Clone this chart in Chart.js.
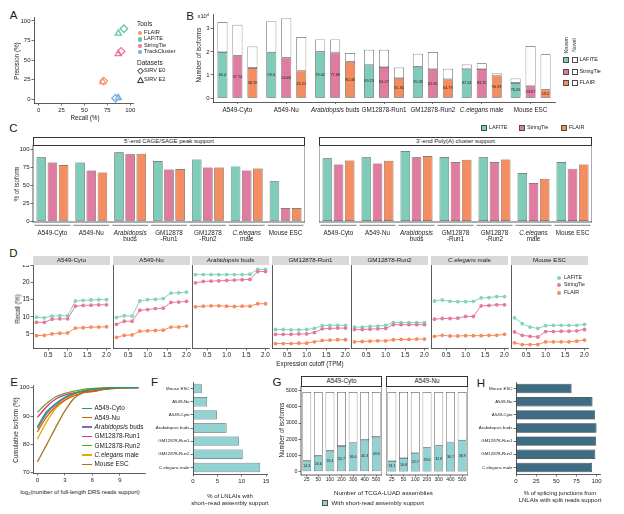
<!DOCTYPE html>
<html><head><meta charset="utf-8">
<script src="https://cdn.jsdelivr.net/npm/chart.js@4.4.1/dist/chart.umd.min.js"></script>
<style>
html,body{margin:0;padding:0;background:#fff}
body{position:relative;width:624px;height:514px;overflow:hidden;font-family:"Liberation Sans",Arial,Helvetica,sans-serif;color:#1a1a1a}
canvas{position:absolute}
.t{position:absolute;white-space:nowrap;line-height:1}
.bx{position:absolute;box-sizing:border-box}
</style></head><body>
<script>
// ================= DATA =================
const groups = ['A549-Cyto','A549-Nu','*Arabidopsis* buds','GM12878-Run1','GM12878-Run2','*C.elegans* male','Mouse ESC'];
const groupsTwoLine = ['A549-Cyto','A549-Nu','*Arabidopsis*\nbuds','GM12878\n-Run1','GM12878\n-Run2','*C.elegans*\nmale','Mouse ESC'];
const toolNames = ['LAFITE','StringTie','FLAIR'];

// A: precision / recall on SIRV
const aTools = ['FLAIR','LAFITE','StringTie','TrackCluster'];
const aRecallE0 = [71, 93, 90, 84];
const aPrecE0 = [23, 90, 61, 1];
const aRecallE2 = [70, 87, 87, 87];
const aPrecE2 = [22, 84, 58, 1.5];
const aAxisTicks = [0, 25, 50, 75, 100];

// B: number of isoforms (x10^4), known part and total
const bTotalLafite = [3.29, 3.33, 2.54, 2.09, 1.92, 1.45, 0.85];
const bKnownLafite = [1.99, 1.98, 2.01, 1.45, 1.355, 1.265, 0.65];
const bTotalStringTie = [3.17, 3.46, 2.54, 2.09, 1.99, 1.51, 2.25];
const bKnownStringTie = [1.83, 1.75, 1.97, 1.34, 1.25, 1.255, 0.53];
const bTotalFlair = [2.23, 2.64, 1.95, 1.32, 1.27, 1.08, 1.90];
const bKnownFlair = [1.30, 1.19, 1.57, 0.86, 0.82, 0.98, 0.365];
const bPctLafite = ['60.4','59.6','79.02','69.23','70.58','87.24','76.26'];
const bPctStringTie = ['57.74','50.66','77.68','64.27','62.65','83.15','23.67'];
const bPctFlair = ['58.19','45.21','80.46','65.36','64.79','90.93','19.2'];
const bTicks = [0, 1, 2, 3];

// C: % of isoforms supported
const cFiveLafite = [89.3, 82.2, 96.3, 84.1, 86.4, 76.6, 55.6];
const cFiveStringTie = [82.2, 71.0, 93.5, 72.4, 75.2, 71.0, 18.2];
const cFiveFlair = [78.5, 68.2, 94.4, 72.9, 75.2, 73.8, 18.2];
const cThreeLafite = [87.9, 89.3, 98.1, 89.7, 89.3, 67.3, 82.7];
const cThreeStringTie = [79.4, 80.8, 89.3, 82.7, 82.7, 53.3, 73.4];
const cThreeFlair = [85.0, 84.6, 91.1, 86.0, 86.4, 59.3, 79.4];
const cTicks = [0, 25, 50, 75, 100];

// D: recall vs expression cutoff, one row per sample (same order as groups)
const dCutoffs = [0.2, 0.4, 0.6, 0.8, 1.0, 1.2, 1.4, 1.6, 1.8, 2.0];
const dLafite = [
  [9.9, 9.7, 10.2, 10.3, 10.3, 14.6, 14.8, 14.9, 15.0, 15.0],
  [9.8, 10.3, 10.2, 14.6, 15.0, 15.1, 15.3, 16.9, 17.0, 17.2],
  [22.3, 22.3, 22.3, 22.3, 22.3, 22.3, 22.3, 22.4, 23.8, 23.8],
  [6.3, 6.3, 6.2, 6.2, 6.3, 6.6, 7.4, 7.5, 7.5, 7.5],
  [7.0, 7.0, 7.2, 7.3, 7.5, 8.3, 8.3, 8.3, 8.3, 8.3],
  [14.6, 14.9, 14.5, 14.4, 14.4, 14.5, 15.5, 15.6, 15.9, 15.9],
  [9.7, 8.0, 7.0, 6.6, 7.4, 7.5, 7.5, 7.5, 7.5, 7.8]
];
const dStringTie = [
  [8.4, 8.4, 9.3, 9.4, 9.4, 13.1, 13.3, 13.4, 13.5, 13.5],
  [7.8, 8.7, 8.7, 11.9, 12.1, 12.4, 12.5, 14.2, 14.3, 14.5],
  [19.9, 20.3, 20.4, 20.5, 20.6, 20.7, 20.8, 20.9, 23.2, 23.2],
  [4.9, 4.9, 4.9, 5.0, 5.0, 5.4, 6.5, 6.6, 6.7, 6.7],
  [6.3, 6.3, 6.4, 6.5, 6.6, 7.7, 7.7, 7.7, 7.7, 7.7],
  [9.3, 9.5, 9.5, 9.6, 10.1, 10.1, 13.2, 13.3, 13.5, 13.5],
  [5.6, 4.6, 4.3, 4.1, 5.7, 5.7, 5.8, 5.8, 5.9, 6.3]
];
const dFlair = [
  [4.5, 4.6, 5.0, 5.2, 5.3, 6.7, 6.8, 7.0, 7.0, 7.1],
  [4.0, 4.6, 4.7, 5.8, 5.9, 6.0, 6.1, 7.0, 7.0, 7.3],
  [12.9, 13.1, 13.2, 13.2, 13.1, 13.0, 13.1, 13.1, 13.8, 13.8],
  [2.2, 2.2, 2.2, 2.3, 2.3, 2.7, 3.1, 3.2, 3.3, 3.3],
  [2.7, 2.8, 2.9, 3.0, 3.0, 3.3, 3.4, 3.4, 3.5, 3.5],
  [4.3, 4.6, 4.4, 4.4, 4.5, 4.5, 4.5, 4.6, 4.6, 4.9],
  [2.4, 1.9, 1.9, 1.9, 2.7, 2.7, 2.7, 2.7, 2.9, 3.2]
];
const dXTicks = [0.5, 1.0, 1.5, 2.0];
const dYTicks = [5, 10, 15, 20, 25];

// E: cumulative isoform (%) vs log2(reads)
const eX = [0, 1, 2, 3, 4, 5, 6, 7, 8, 9, 10, 11];
const eA549Cyto = [86.2, 91.5, 94.4, 96.6, 98.0, 98.9, 99.4, 99.7, 99.9, 100, 100, 100];
const eA549Nu = [84.4, 89.7, 93.3, 95.6, 97.2, 98.3, 98.6, 99.2, 99.6, 99.9, 100, 100];
const eArabidopsis = [85.6, 90.8, 94.0, 96.4, 97.9, 98.8, 99.4, 99.7, 99.9, 100, 100, 100];
const eGMRun1 = [89.5, 93.3, 96.0, 97.4, 98.2, 98.6, 98.7, 99.4, 99.8, 100, 100, 100];
const eGMRun2 = [91.3, 94.4, 96.8, 98.0, 98.8, 99.4, 99.7, 99.9, 100, 100, 100, 100];
const eCelegans = [81.8, 87.9, 92.7, 95.6, 97.8, 98.9, 99.4, 99.7, 99.9, 100, 100, 100];
const eMouseESC = [73.8, 79.8, 86.0, 91.8, 96.3, 98.3, 98.9, 99.3, 99.8, 100, 100, 100];
const eXTicks = [0, 3, 6, 9];
const eYTicks = [70, 80, 90, 100];

// F / H: horizontal bars
const fhCats = ['Mouse ESC','A549-Nu','A549-Cyto','Arabidopsis buds','GM12878-Run1','GM12878-Run2','C.elegans male'];
const fValues = [1.8, 2.9, 4.9, 6.9, 9.4, 10.2, 13.8];
const fTicks = [0, 5, 10, 15];
const hValues = [69, 95, 98, 100, 99.5, 98.5, 94.5];
const hTicks = [0, 25, 50, 75, 100];

// G: isoforms with short-read assembly support
const gAssemblies = ['25','50','100','200','300','400','500'];
const gTotalCyto = [4920, 4920, 4920, 4920, 4920, 4920, 4920];
const gSupportCyto = [667, 979, 1292, 1583, 1792, 1958, 2146];
const gPctCyto = ['14.3','20.6','26.4','32.7','36.6','40.3','43.6'];
const gTotalNu = [4920, 4920, 4920, 4920, 4920, 4920, 4920];
const gSupportNu = [650, 833, 1130, 1480, 1604, 1805, 1930];
const gPctNu = ['13.1','16.8','22.7','29.6','32.8','36.7','38.9'];
const gTicks = [0, 1000, 2000, 3000, 4000, 5000];

// ================= STYLE =================
const FONT = '"Liberation Sans", Arial, Helvetica, sans-serif';
const AXC = '#333333', TXT = '#222222', BRD = '#4d4d4d';
const COL = {lafite:'#7ECCB9', stringtie:'#E07C9F', flair:'#F48E60'};
const ACOL = {FLAIR:'#F6976C', LAFITE:'#66C5A8', StringTie:'#E5779F', TrackCluster:'#7BAFDE'};
const DCOL = ['#84D3BF', '#E57AA0', '#F58C5E'];
const ECOL = ['#1B9E77','#D95F02','#7570B3','#E7298A','#66A61E','#E6AB02','#A6761D'];
const CYAN = '#92D2D3', HCOL = '#3D6C83';
Chart.defaults.font.family = FONT;
Chart.defaults.font.size = 6;
Chart.defaults.color = TXT;

function toHtml(s){ return s.replace(/\*(.*?)\*/g, '<i>$1</i>'); }
function T(html, x, y, size, align, rot, extra) {
  const d = document.createElement('div');
  d.className = 't'; d.innerHTML = html;
  d.style.left = x + 'px'; d.style.top = y + 'px'; d.style.fontSize = size + 'px';
  const tx = align === 'c' ? '-50%' : align === 'r' ? '-100%' : '0';
  d.style.transform = 'translate(' + tx + ',-50%)' + (rot ? ' rotate(' + rot + 'deg)' : '');
  if (extra) Object.assign(d.style, extra);
  document.body.appendChild(d); return d;
}
function B(x, y, w, h, css) {
  const d = document.createElement('div'); d.className = 'bx';
  d.style.cssText += 'left:' + x + 'px;top:' + y + 'px;width:' + w + 'px;height:' + h + 'px;' + (css || '');
  document.body.appendChild(d); return d;
}
function drawRich(ctx, text, x, y, size, align, color) {
  const parts = text.split('*');
  const fonts = parts.map((p, i) => (i % 2 ? 'italic ' : '') + size + 'px ' + FONT);
  const widths = parts.map((p, i) => { ctx.font = fonts[i]; return ctx.measureText(p).width; });
  const total = widths.reduce((a, b) => a + b, 0);
  let cx = align === 'center' ? x - total / 2 : align === 'right' ? x - total : x;
  ctx.save(); ctx.fillStyle = color || TXT; ctx.textBaseline = 'middle'; ctx.textAlign = 'left';
  parts.forEach((p, i) => { ctx.font = fonts[i]; ctx.fillText(p, cx, y); cx += widths[i]; });
  ctx.restore();
}

// ================= PLUGINS =================
Chart.register({
  id: 'richX',
  afterDraw(chart, args, o) {
    if (!o || !o.labels) return;
    const sx = chart.scales.x, b = chart.chartArea.bottom;
    o.labels.forEach((lab, i) => {
      const x = sx.getPixelForValue(i);
      lab.split('\n').forEach((line, j) => drawRich(chart.ctx, line, x, b + o.dy + j * (o.lh || 0), o.size, 'center', TXT));
    });
  }
}, {
  id: 'barLabels',
  afterDatasetsDraw(chart, args, o) {
    if (!o || !o.sets) return;
    const ctx = chart.ctx; ctx.save();
    ctx.font = o.size + 'px ' + FONT; ctx.fillStyle = '#1a1a1a'; ctx.textAlign = 'center'; ctx.textBaseline = 'middle';
    o.sets.forEach(s => {
      chart.getDatasetMeta(s.ds).data.forEach((el, i) => {
        const p = el.getProps(['x', 'y', 'base'], true);
        ctx.fillText(s.labels[i], p.x, (p.y + p.base) / 2);
      });
    });
    ctx.restore();
  }
}, {
  id: 'frame',
  afterDraw(chart, args, o) {
    if (!o || !o.on) return;
    const a = chart.chartArea, ctx = chart.ctx; ctx.save();
    ctx.strokeStyle = AXC; ctx.lineWidth = 0.8;
    ctx.strokeRect(a.left, a.top, a.right - a.left, a.bottom - a.top); ctx.restore();
  }
}, {
  id: 'underline',
  afterDraw(chart, args, o) {
    if (!o || !o.on) return;
    const sx = chart.scales.x, a = chart.chartArea, n = chart.data.labels.length, w = (a.right - a.left) / n, ctx = chart.ctx;
    ctx.save(); ctx.strokeStyle = '#9a9a9a'; ctx.lineWidth = 1.3;
    for (let i = 0; i < n; i++) {
      const x = sx.getPixelForValue(i);
      ctx.beginPath(); ctx.moveTo(x - w / 2 + o.inset, a.bottom + o.dy); ctx.lineTo(x + w / 2 - o.inset, a.bottom + o.dy); ctx.stroke();
    }
    ctx.restore();
  }
});

// ================= HELPERS =================
function scaleCfg(o) {
  const tl = o.tickLen == null ? 2.5 : o.tickLen;
  const s = {
    type: o.type || 'linear', display: true,
    grid: {display: tl > 0, drawOnChartArea: false, drawTicks: true, tickLength: tl, color: AXC, lineWidth: 0.7, offset: false},
    border: {display: o.border !== false, color: AXC, width: 0.8},
    ticks: {display: o.labels !== false, font: {size: o.size || 6, family: FONT}, color: TXT, padding: o.pad == null ? 1 : o.pad, maxRotation: 0, minRotation: 0, autoSkip: false}
  };
  if (o.min != null) s.min = o.min;
  if (o.max != null) s.max = o.max;
  if (o.stacked) s.stacked = true;
  if (o.ticks) s.afterBuildTicks = sc => { sc.ticks = o.ticks.map(v => ({value: v})); };
  if (o.fmt) s.ticks.callback = o.fmt;
  return s;
}
function makeChart(p, yw, xh, padT, padR, type, data, options) {
  const cv = document.createElement('canvas');
  const w = p.x1 - p.x0 + yw + padR, h = p.y1 - p.y0 + padT + xh;
  cv.width = w; cv.height = h;
  cv.style.left = (p.x0 - yw) + 'px'; cv.style.top = (p.y0 - padT) + 'px';
  cv.style.width = w + 'px'; cv.style.height = h + 'px';
  document.body.appendChild(cv);
  options.responsive = false; options.animation = false; options.events = [];
  options.layout = {padding: {top: padT, right: padR, left: 0, bottom: 0}, autoPadding: false};
  options.plugins = Object.assign({legend: {display: false}, tooltip: {enabled: false}}, options.plugins || {});
  options.scales.x.afterFit = s => { s.height = xh; s.paddingLeft = 0; s.paddingRight = 0; s.paddingTop = 0; s.paddingBottom = 0; };
  options.scales.y.afterFit = s => { s.width = yw; s.paddingLeft = 0; s.paddingRight = 0; s.paddingTop = 0; s.paddingBottom = 0; };
  return new Chart(cv, {type: type, data: data, options: options});
}
function barDs(data, color, extra) {
  return Object.assign({data: data, backgroundColor: color, borderColor: BRD, borderWidth: 0.7, borderSkipped: false}, extra || {});
}

// ================= PANEL LETTERS =================
[['A', 13.5, 16], ['B', 190, 16.5], ['C', 13.5, 129], ['D', 13.5, 254], ['E', 14, 382.5], ['F', 154.5, 382.5], ['G', 277, 382.5], ['H', 481, 383.5]]
  .forEach(l => T(l[0], l[1], l[2], 11.5, 'c'));

// ================= A =================
{
  const colors = aTools.map(t => ACOL[t]);
  makeChart({x0: 34, y0: 17, x1: 133, y1: 103}, 14, 12, 3, 3, 'scatter', {
    datasets: [
      {data: aTools.map((t, i) => ({x: aRecallE0[i], y: aPrecE0[i]})), pointStyle: 'rectRot', pointRadius: 3.8, pointBorderWidth: 1.3, pointBorderColor: colors, pointBackgroundColor: 'rgba(0,0,0,0)', clip: false},
      {data: aTools.map((t, i) => ({x: aRecallE2[i], y: aPrecE2[i]})), pointStyle: 'triangle', pointRadius: 3.6, pointBorderWidth: 1.3, pointBorderColor: colors, pointBackgroundColor: 'rgba(0,0,0,0)', clip: false}
    ]
  }, {scales: {x: scaleCfg({min: -5, max: 103, ticks: aAxisTicks}), y: scaleCfg({min: -5, max: 105, ticks: aAxisTicks})}});
  T('Recall (%)', 85, 118, 6.3, 'c');
  T('Precision (%)', 16.5, 61, 6.3, 'c', -90);
  T('Tools', 137, 24, 6.5, 'l');
  const rows = [33.3, 39.4, 45.8, 52.3];
  aTools.forEach((t, i) => {
    B(137.8, rows[i] - 2.2, 4.4, 4.4, 'border-radius:50%;background:' + ACOL[t]);
    T(t, 144, rows[i], 5.6, 'l');
  });
  T('Datasets', 137, 63.3, 6.5, 'l');
  T('<svg width="7" height="7" viewBox="0 0 7 7"><path d="M3.5 0.6 L6.4 3.5 L3.5 6.4 L0.6 3.5 Z" fill="none" stroke="#1a1a1a" stroke-width="1"/></svg>', 136.5, 71.2, 7, 'l', 0, {lineHeight: '0'});
  T('SIRV E0', 144, 71.2, 5.6, 'l');
  T('<svg width="7" height="7" viewBox="0 0 7 7"><path d="M3.5 0.8 L6.4 6.2 L0.6 6.2 Z" fill="none" stroke="#1a1a1a" stroke-width="1"/></svg>', 136.5, 79.5, 7, 'l', 0, {lineHeight: '0'});
  T('SIRV E2', 144, 79.5, 5.6, 'l');
}

// ================= B =================
{
  const stacks = [
    {name: 'LAFITE', known: bKnownLafite, total: bTotalLafite, pct: bPctLafite, color: COL.lafite},
    {name: 'StringTie', known: bKnownStringTie, total: bTotalStringTie, pct: bPctStringTie, color: COL.stringtie},
    {name: 'FLAIR', known: bKnownFlair, total: bTotalFlair, pct: bPctFlair, color: COL.flair}
  ];
  const datasets = [], sets = [];
  stacks.forEach(s => {
    sets.push({ds: datasets.length, labels: s.pct});
    datasets.push(barDs(s.known, s.color, {stack: s.name}));
    datasets.push(barDs(s.total.map((t, i) => t - s.known[i]), '#ffffff', {stack: s.name}));
  });
  makeChart({x0: 213, y0: 14, x1: 555, y1: 102}, 10, 14, 2, 2, 'bar', {labels: groups, datasets: datasets}, {
    datasets: {bar: {categoryPercentage: 0.92, barPercentage: 0.667}},
    scales: {
      x: scaleCfg({type: 'category', labels: false, stacked: true, tickLen: 2}),
      y: scaleCfg({min: -0.17, max: 3.64, ticks: bTicks, stacked: true})
    },
    plugins: {richX: {labels: groups, dy: 8.5, size: 6.3}, barLabels: {sets: sets, size: 3.8}}
  });
  T('x10<sup style="font-size:0.7em;vertical-align:0.45em">4</sup>', 197.5, 16, 5.8, 'l');
  T('Number of isoforms', 199, 55, 6.3, 'c', -90);
  T('Known', 566.5, 45, 5.2, 'c', -90);
  T('Novel', 574.5, 45, 5.2, 'c', -90);
  const rows = [60, 71.7, 83.3], cols = [COL.lafite, COL.stringtie, COL.flair];
  toolNames.forEach((t, i) => {
    B(563, rows[i] - 3, 6, 6, 'border:0.8px solid ' + BRD + ';background:' + cols[i]);
    B(571.5, rows[i] - 3, 6, 6, 'border:0.8px solid ' + BRD + ';background:#fff');
    T(t, 579.5, rows[i], 5.4, 'l');
  });
}

// ================= C =================
{
  const mk = (p, yw, a, b, c, showY) => makeChart(p, yw, 22, 0, 0, 'bar', {
    labels: groupsTwoLine,
    datasets: [barDs(a, COL.lafite), barDs(b, COL.stringtie), barDs(c, COL.flair)]
  }, {
    datasets: {bar: {categoryPercentage: 0.86, barPercentage: 0.86}},
    scales: {
      x: scaleCfg({type: 'category', labels: false, tickLen: 0, border: false}),
      y: showY ? scaleCfg({min: -1.4, max: 106.6, ticks: cTicks, border: false})
               : scaleCfg({min: -1.4, max: 106.6, ticks: cTicks, labels: false, tickLen: 0, border: false})
    },
    plugins: {frame: {on: true}, underline: {on: true, dy: 3.3, inset: 1.5}, richX: {labels: groupsTwoLine, dy: 11.3, lh: 6.4, size: 6.3}}
  });
  mk({x0: 33, y0: 145, x1: 305, y1: 222}, 14, cFiveLafite, cFiveStringTie, cFiveFlair, true);
  mk({x0: 319, y0: 145, x1: 592, y1: 222}, 0, cThreeLafite, cThreeStringTie, cThreeFlair, false);
  B(33, 136.5, 272, 9, 'border:0.8px solid #333;background:#fff');
  T("5'-end CAGE/SAGE peak support", 169, 141, 6, 'c');
  B(319, 136.5, 273, 9, 'border:0.8px solid #333;background:#fff');
  T("3'-end Poly(A) cluster support", 455.5, 141, 6, 'c');
  T('% of isoform', 16.5, 184, 6.3, 'c', -90);
  const lx = [484, 522, 564], cols = [COL.lafite, COL.stringtie, COL.flair];
  toolNames.forEach((t, i) => {
    B(lx[i] - 3, 125.3, 6, 6, 'border:0.8px solid ' + BRD + ';background:' + cols[i]);
    T(t, lx[i] + 5, 128.3, 5.4, 'l');
  });
}

// ================= D =================
{
  for (let f = 0; f < 7; f++) {
    const x0 = Math.round(33 + 79.6 * f);
    const series = [dLafite[f], dStringTie[f], dFlair[f]];
    makeChart({x0: x0, y0: 265, x1: x0 + 77, y1: 348}, f === 0 ? 14 : 0, 12, 0, 1, 'line', {
      datasets: series.map((arr, k) => ({
        data: dCutoffs.map((c, i) => ({x: c, y: arr[i]})),
        borderColor: DCOL[k], backgroundColor: DCOL[k], borderWidth: 1, pointRadius: 1.9,
        pointBackgroundColor: DCOL[k], pointBorderWidth: 0, tension: 0, clip: false
      })).reverse()
    }, {
      scales: {
        x: scaleCfg({min: 0.11, max: 2.09, ticks: dXTicks, fmt: v => v.toFixed(1), size: 6.3}),
        y: f === 0 ? scaleCfg({min: 0.9, max: 25.1, ticks: dYTicks, size: 6.3})
                   : scaleCfg({min: 0.9, max: 25.1, ticks: dYTicks, labels: false, tickLen: 0})
      }
    });
    B(x0, 255.5, 77, 9.5, 'background:#D9D9D9');
    T(toHtml(groups[f]), x0 + 38.5, 260.3, 6.2, 'c');
  }
  T('Recall (%)', 17.5, 309, 6.3, 'c', -90);
  T('Expression cutoff (TPM)', 310, 363.5, 6.3, 'c');
  const rows = [277.7, 285.2, 293.3];
  toolNames.forEach((t, i) => {
    B(557.3, rows[i] - 2, 4, 4, 'border-radius:50%;background:' + DCOL[i]);
    T(t, 564, rows[i], 5.3, 'l');
  });
}

// ================= E =================
{
  const eSeries = [eA549Cyto, eA549Nu, eArabidopsis, eGMRun1, eGMRun2, eCelegans, eMouseESC];
  makeChart({x0: 33, y0: 385, x1: 145, y1: 473}, 14, 12, 4, 3, 'line', {
    datasets: eSeries.map((arr, k) => ({
      data: eX.map((x, i) => ({x: x, y: arr[i]})),
      borderColor: ECOL[k], borderWidth: 1.3, pointRadius: 0, cubicInterpolationMode: 'monotone', clip: false
    }))
  }, {
    scales: {
      x: scaleCfg({min: -0.48, max: 11.73, ticks: eXTicks}),
      y: scaleCfg({min: 69.86, max: 100.96, ticks: eYTicks})
    }
  });
  T('Cumulative isoform (%)', 16, 430, 6.3, 'c', -90);
  T('log<sub style="font-size:0.7em;vertical-align:-0.3em">2</sub>(number of full-length DRS reads support)', 80, 492.7, 5.9, 'c');
  groups.forEach((g, i) => {
    const y = 408.3 + 9.33 * i;
    B(81.5, y - 0.75, 10, 1.5, 'background:' + ECOL[i]);
    T(toHtml(g), 94.5, y, 6.4, 'l');
  });
}

// ================= F =================
makeChart({x0: 193, y0: 382, x1: 267, y1: 474}, 50, 12, 0, 3, 'bar', {
  labels: fhCats, datasets: [barDs(fValues, CYAN)]
}, {
  indexAxis: 'y',
  datasets: {bar: {categoryPercentage: 0.72, barPercentage: 1}},
  scales: {
    x: scaleCfg({min: 0, max: 15.2, ticks: fTicks}),
    y: scaleCfg({type: 'category', size: 4.4})
  }
});
T('% of LNLAIs with', 230, 496, 6, 'c');
T('short\u2212read assembly support', 230, 503.3, 6, 'c');

// ================= G =================
{
  const mk = (p, yw, total, support, pct, showY) => makeChart(p, yw, 10, 0, 0, 'bar', {
    labels: gAssemblies,
    datasets: [barDs(support, CYAN, {stack: 's'}), barDs(total.map((t, i) => t - support[i]), '#ffffff', {stack: 's'})]
  }, {
    datasets: {bar: {categoryPercentage: 0.76, barPercentage: 1}},
    scales: {
      x: scaleCfg({type: 'category', stacked: true, size: 5, tickLen: 1.5, pad: 0.5, border: false}),
      y: showY ? scaleCfg({min: -210, max: 5290, ticks: gTicks, stacked: true, size: 5.2, fmt: v => String(v), border: false})
               : scaleCfg({min: -210, max: 5290, ticks: gTicks, stacked: true, labels: false, tickLen: 0, border: false})
    },
    plugins: {frame: {on: true}, barLabels: {sets: [{ds: 0, labels: pct}], size: 3.6}}
  });
  mk({x0: 301, y0: 386, x1: 382, y1: 475}, 16, gTotalCyto, gSupportCyto, gPctCyto, true);
  mk({x0: 386, y0: 386, x1: 468, y1: 475}, 0, gTotalNu, gSupportNu, gPctNu, false);
  B(301, 376, 81, 10.5, 'border:0.8px solid #333;background:#fff');
  T('A549-Cyto', 341.5, 381.3, 6.4, 'c');
  B(386, 376, 82, 10.5, 'border:0.8px solid #333;background:#fff');
  T('A549-Nu', 427, 381.3, 6.4, 'c');
  T('Number of isoforms', 282, 430, 6.3, 'c', -90);
  T('Number of TCGA-LUAD assemblies', 383.5, 493.3, 6.2, 'c');
  B(322, 499.7, 6, 6, 'border:0.8px solid ' + BRD + ';background:' + CYAN);
  T('With short-read assembly support', 331.5, 502.7, 6.2, 'l');
}

// ================= H =================
makeChart({x0: 516, y0: 382, x1: 600, y1: 474}, 50, 12, 0, 8, 'bar', {
  labels: fhCats, datasets: [barDs(hValues, HCOL, {borderColor: '#2a2a2a'})]
}, {
  indexAxis: 'y',
  datasets: {bar: {categoryPercentage: 0.72, barPercentage: 1}},
  scales: {
    x: scaleCfg({min: 0, max: 104.3, ticks: hTicks}),
    y: scaleCfg({type: 'category', size: 4.4})
  }
});
T('% of splicing junctions from', 560, 492.7, 6, 'c');
T('LNLAIs with split reads support', 560, 500, 6, 'c');
</script>
</body></html>
